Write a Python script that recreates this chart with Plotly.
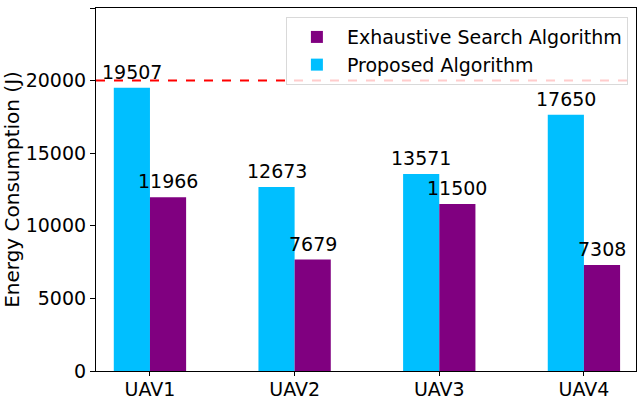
import plotly.graph_objects as go

uavs = ["UAV1", "UAV2", "UAV3", "UAV4"]
proposed = [19507, 12673, 13571, 17650]
exhaustive = [11966, 7679, 11500, 7308]
limit = 20000

pos = list(range(len(uavs)))
w = 0.25
x_prop = [p - w / 2 for p in pos]
x_exh = [p + w / 2 for p in pos]

fig = go.Figure()
fig.add_trace(go.Bar(x=x_prop, y=proposed, width=w, name="Proposed Algorithm",
                     marker=dict(color="#00BFFF", line=dict(width=0))))
fig.add_trace(go.Bar(x=x_exh, y=exhaustive, width=w, name="Exhaustive Search Algorithm",
                     marker=dict(color="#800080", line=dict(width=0))))

# value labels above bars
for xs, ys in [(x_prop, proposed), (x_exh, exhaustive)]:
    for x, y in zip(xs, ys):
        fig.add_annotation(x=x, y=y, text=str(y), showarrow=False, yanchor="bottom",
                           yshift=3, font=dict(size=19, color="black"))

fig.add_shape(type="line", xref="paper", x0=0, x1=1, y0=limit, y1=limit,
              line=dict(color="red", width=2, dash="dash"))

fig.update_layout(
    width=640, height=397,
    margin=dict(l=96, r=4, t=8, b=26),
    plot_bgcolor="white", paper_bgcolor="white",
    font=dict(family="DejaVu Sans", size=19, color="black"),
    barmode="overlay",
    showlegend=True,
    legend=dict(x=0.985, y=0.975, xanchor="right", yanchor="top", traceorder="reversed",
                bgcolor="rgba(255,255,255,0.8)", bordercolor="#d9d9d9", borderwidth=1,
                font=dict(size=19), itemwidth=50),
)
fig.update_xaxes(range=[-0.373, 3.36], tickvals=pos, ticktext=uavs, showline=True,
                 linecolor="black", linewidth=1.2, mirror=True, ticks="outside",
                 ticklen=4, tickcolor="black", showgrid=False, zeroline=False,
                 automargin=False, tickfont=dict(size=19), ticklabelstandoff=-3)
fig.update_yaxes(range=[0, 25000], dtick=5000, tickformat="d", showline=True,
                 linecolor="black", linewidth=1.2, mirror=True, ticks="outside",
                 ticklen=5, tickcolor="black", showgrid=False, zeroline=False,
                 automargin=False, tickfont=dict(size=19),
                 title=dict(text="Energy Consumption (J)", font=dict(size=20), standoff=3))

# drop the default page margin so the figure sits at the window corner
fig.write_html("out.html", config={"displayModeBar": False},
               post_script="document.body.style.margin='0';")
